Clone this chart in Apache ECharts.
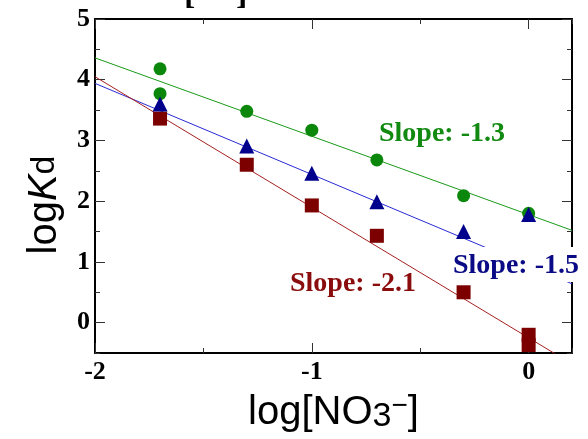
<!DOCTYPE html>
<html>
<head>
<meta charset="utf-8">
<script src="https://cdn.jsdelivr.net/npm/echarts@6/dist/echarts.min.js"></script>
<style>
  html, body { margin: 0; padding: 0; background: #fff; }
  #chart { width: 588px; height: 439px; }
</style>
</head>
<body>
<div id="chart"></div>
<script>
// tick values
var xMajor = [-2, -1, 0];
var yMajor = [0, 1, 2, 3, 4, 5];

// measured points, log[NO3-] vs log Kd
var greenPts = [[-1.7, 4.18], [-1.7, 3.77], [-1.3, 3.48], [-1, 3.17], [-0.7, 2.68], [-0.3, 2.09], [0, 1.80]];
var bluePts = [[-1.7, 3.60], [-1.3, 2.91], [-1, 2.46], [-0.7, 1.99], [-0.3, 1.50], [0, 1.78]];
var redPts = [[-1.7, 3.36], [-1.3, 2.60], [-1, 1.93], [-0.7, 1.43], [-0.3, 0.50], [0, -0.20], [0, -0.37]];

// fitted lines (end points)
var greenFit = [[-2, 4.36], [0.2, 1.52]];
var blueFit = [[-2, 3.94], [0.2, 0.64]];
var redFit = [[-2, 4.05], [0.2, -0.68]];

var slopeLabels = ['Slope: -1.3', 'Slope: -1.5', 'Slope: -2.1'];

var GREEN = '#0b880b', BLUE = '#00008c', RED = '#7d0000';
var tickFont = { fontFamily: 'Liberation Serif', fontWeight: 'bold', fontSize: 26, color: '#000' };

function xAx(pos, major, labels) {
    return {
        type: 'value', position: pos, min: -2, max: 0.2, interval: 0.5,
        axisLine: { show: !major, onZero: false, lineStyle: { color: '#000', width: 2 } },
        axisTick: major
            ? { inside: true, length: 10, customValues: xMajor, lineStyle: { color: '#333', width: 1 } }
            : { inside: true, length: 5, lineStyle: { color: '#333', width: 1 } },
        axisLabel: labels
            ? Object.assign({ margin: 6, customValues: xMajor, formatter: function (v) { return Number.isInteger(v) ? String(v) : ''; } }, tickFont)
            : { show: false },
        splitLine: { show: false }
    };
}

function yAx(pos, major, labels) {
    return {
        type: 'value', position: pos, min: -0.5, max: 5, interval: 0.5,
        axisLine: { show: !major, onZero: false, lineStyle: { color: '#000', width: 2 } },
        axisTick: major
            ? { inside: true, length: 10, customValues: yMajor, lineStyle: { color: '#333', width: 1 } }
            : { inside: true, length: 5, lineStyle: { color: '#333', width: 1 } },
        axisLabel: labels
            ? Object.assign({ margin: 5, customValues: yMajor, formatter: function (v) { return Number.isInteger(v) ? String(v) : ''; } }, tickFont)
            : { show: false },
        splitLine: { show: false }
    };
}

var xAxes = [xAx('bottom', false, true), xAx('bottom', true, false), xAx('top', false, false), xAx('top', true, false)];
var yAxes = [yAx('left', false, true), yAx('left', true, false), yAx('right', false, false), yAx('right', true, false)];

xAxes[0].name = '{a|log[NO}{s|3}{p|\u2212}{a|]}';
xAxes[0].nameLocation = 'middle';
xAxes[0].nameGap = 39;
xAxes[0].nameTextStyle = {
    rich: {
        a: { fontFamily: 'Liberation Sans', fontSize: 40, lineHeight: 42, color: '#000' },
        s: { fontFamily: 'Liberation Sans', fontSize: 34, lineHeight: 30, verticalAlign: 'bottom', color: '#000' },
        p: { fontFamily: 'Liberation Sans', fontSize: 28, lineHeight: 16, verticalAlign: 'top', color: '#000' }
    }
};

yAxes[0].name = '{a|log}{k|K}{d|d}';
yAxes[0].nameLocation = 'middle';
yAxes[0].nameGap = 28;
yAxes[0].nameTextStyle = {
    padding: [0, 38, 0, 0],
    rich: {
        a: { fontFamily: 'Liberation Sans', fontSize: 40, lineHeight: 44, color: '#000' },
        k: { fontFamily: 'Liberation Sans', fontStyle: 'italic', fontSize: 40, lineHeight: 44, color: '#000' },
        d: { fontFamily: 'Liberation Sans', fontSize: 34, lineHeight: 44, color: '#000' }
    }
};

function fitLine(data, color) {
    return {
        type: 'line', data: data, symbol: 'none', silent: true,
        lineStyle: { color: color, width: 1 }, z: 1
    };
}

function dots(data, symbol, size, color) {
    return {
        type: 'scatter', data: data, symbol: symbol, symbolSize: size,
        itemStyle: { color: color, opacity: 1 }, z: 3
    };
}

var slopeFont = { fontFamily: 'Liberation Serif', fontWeight: 'bold', fontSize: 28 };

var option = {
    animation: false,
    backgroundColor: '#fff',
    grid: { left: 95, right: 16, top: 19, bottom: 82 },
    xAxis: xAxes,
    yAxis: yAxes,
    series: [
        fitLine(greenFit, '#1a9a1a'),
        fitLine(blueFit, '#2a2ad6'),
        fitLine(redFit, '#a42020'),
        dots(redPts, 'rect', 14, RED),
        dots(greenPts, 'circle', 13, GREEN),
        dots(bluePts, 'triangle', 15, BLUE)
    ],
    graphic: [
        { type: 'text', left: 184, top: -22, style: Object.assign({ text: '[', fill: '#000' }, { fontFamily: 'Liberation Serif', fontWeight: 'bold', fontSize: 34 }) },
        { type: 'text', left: 236, top: -22, style: Object.assign({ text: ']', fill: '#000' }, { fontFamily: 'Liberation Serif', fontWeight: 'bold', fontSize: 34 }) },
        { type: 'text', x: 379, y: 134, z: 100, style: Object.assign({ text: slopeLabels[0], fill: '#128a12', verticalAlign: 'middle' }, slopeFont) },
        { type: 'text', x: 450, y: 247, z: 100, style: Object.assign({ text: slopeLabels[1], fill: '#0a0a86', verticalAlign: 'top', lineHeight: 28, padding: [5, 3, 2, 3], backgroundColor: '#fff' }, slopeFont) },
        { type: 'text', x: 290, y: 284, z: 100, style: Object.assign({ text: slopeLabels[2], fill: '#8a0c0c', verticalAlign: 'middle' }, slopeFont) }
    ]
};

var myChart = echarts.init(document.getElementById('chart'));
myChart.setOption(option);
</script>
</body>
</html>
